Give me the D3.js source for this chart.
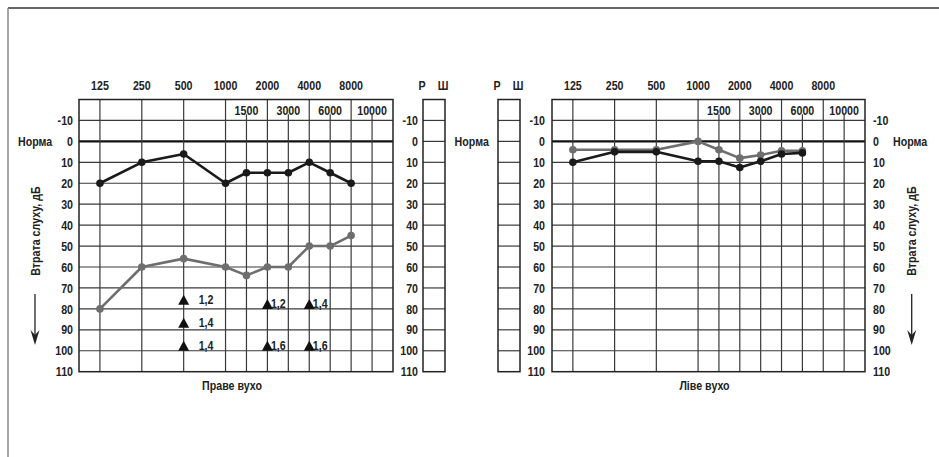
<!DOCTYPE html>
<html>
<head>
<meta charset="utf-8">
<script src="https://cdn.jsdelivr.net/npm/d3@7"></script>
<style>
  body { margin: 0; background: #fff; }
  svg text { font-family: "Liberation Sans", Arial, sans-serif; font-weight: bold; font-size: 13px; fill: #222; }
</style>
</head>
<body>
<script>
// frequencies along the top (octaves) and inside the header row (half octaves)
var mainFreqs = [125, 250, 500, 1000, 2000, 4000, 8000];
var halfFreqs = [1500, 3000, 6000, 10000];
var freqPos = {125: 0, 250: 1, 500: 2, 1000: 3, 1500: 3.5, 2000: 4, 3000: 4.5, 4000: 5, 6000: 5.5, 8000: 6, 10000: 6.5};
var dbTicks = [-10, 0, 10, 20, 30, 40, 50, 60, 70, 80, 90, 100, 110];

// right ear (Праве вухо)
var rightFreqs = [125, 250, 500, 1000, 1500, 2000, 3000, 4000, 6000, 8000];
var rightBlack = [20, 10, 6, 20, 15, 15, 15, 10, 15, 20];
var rightGray = [80, 60, 56, 60, 64, 60, 60, 50, 50, 45];
// triangle marks with their labels
var triFreqs = [500, 500, 500, 2000, 2000, 4000, 4000];
var triDb = [78, 89, 100, 80, 100, 80, 100];
var triLabels = ["1,2", "1,4", "1,4", "1,2", "1,6", "1,4", "1,6"];

// left ear (Ліве вухо)
var leftFreqs = [125, 250, 500, 1000, 1500, 2000, 3000, 4000, 6000];
var leftBlack = [10, 5, 5, 9.5, 9.5, 12.5, 9.5, 6, 5.5];
var leftGray = [4, 4, 4, 0, 4, 8, 6.5, 4.5, 4.5];

var W = 939, H = 457;
var narrow = 0.82; // squeeze text horizontally, the original uses a narrow face

var svg = d3.select("body").append("svg")
    .attr("width", W)
    .attr("height", H);

// outer frame
svg.append("line").attr("x1", 8).attr("x2", W).attr("y1", 8).attr("y2", 8)
  .attr("stroke", "#333").attr("stroke-width", 1.5);
svg.append("line").attr("x1", 8).attr("x2", 8).attr("y1", 8).attr("y2", H)
  .attr("stroke", "#888").attr("stroke-width", 1.5);

var y = d3.scaleLinear().domain([-20, 110]).range([99.5, 371.7]);
var gridColor = "#3a3a3a";

function drawAudiogram(x0, x1, title, freqs, blackVals, grayVals) {
  var x = d3.scaleLinear().domain([-0.5, 7]).range([x0, x1]);
  var g = svg.append("g");

  // horizontal grid
  g.selectAll(".hl").data(dbTicks.slice(0, -1)).enter().append("line")
    .attr("x1", x0).attr("x2", x1)
    .attr("y1", function(d) { return y(d); }).attr("y2", function(d) { return y(d); })
    .attr("stroke", function(d) { return d === 0 ? "#111" : gridColor; })
    .attr("stroke-width", function(d) { return d === 0 ? 2.2 : 1.2; });

  // vertical lines: octaves full height, half octaves start under header labels
  g.selectAll(".vm").data(mainFreqs).enter().append("line")
    .attr("x1", function(d) { return x(freqPos[d]); }).attr("x2", function(d) { return x(freqPos[d]); })
    .attr("y1", y(-20)).attr("y2", y(110))
    .attr("stroke", gridColor).attr("stroke-width", 1.2);
  g.selectAll(".vh").data(halfFreqs).enter().append("line")
    .attr("x1", function(d) { return x(freqPos[d]); }).attr("x2", function(d) { return x(freqPos[d]); })
    .attr("y1", y(-13)).attr("y2", y(110))
    .attr("stroke", gridColor).attr("stroke-width", 1.2);

  g.append("rect")
    .attr("x", x0).attr("y", y(-20))
    .attr("width", x1 - x0).attr("height", y(110) - y(-20))
    .attr("fill", "none").attr("stroke", "#222").attr("stroke-width", 1.5);

  // frequency labels
  g.selectAll(".fm").data(mainFreqs).enter().append("text")
    .attr("x", function(d) { return x(freqPos[d]); })
    .attr("y", 85).attr("dy", "0.35em")
    .attr("text-anchor", "middle")
    .text(function(d) { return d; });
  g.selectAll(".fh").data(halfFreqs).enter().append("text")
    .attr("x", function(d) { return x(freqPos[d] - 0.5) + (x(1) - x(0)) / 2; })
    .attr("y", y(-15)).attr("dy", "0.35em")
    .attr("text-anchor", "middle")
    .text(function(d) { return d; });

  // series
  var line = d3.line()
    .x(function(d) { return x(freqPos[d.f]); })
    .y(function(d) { return y(d.v); });
  var series = [
    { color: "#6e6e6e", vals: grayVals },
    { color: "#1a1a1a", vals: blackVals }
  ];
  series.forEach(function(s) {
    var pts = freqs.map(function(f, i) { return { f: f, v: s.vals[i] }; });
    g.append("path").datum(pts)
      .attr("d", line)
      .attr("fill", "none").attr("stroke", s.color).attr("stroke-width", 2.6)
      .attr("stroke-linejoin", "round");
    g.selectAll(null).data(pts).enter().append("circle")
      .attr("cx", function(d) { return x(freqPos[d.f]); })
      .attr("cy", function(d) { return y(d.v); })
      .attr("r", 3.8).attr("fill", s.color);
  });

  g.append("text")
    .attr("x", (x0 + x1) / 2 - 4).attr("y", 385).attr("dy", "0.35em")
    .attr("text-anchor", "middle")
    .text(title);
  return x;
}

function drawSideBox(bx0, bx1, labels) {
  var g = svg.append("g");
  g.selectAll("line").data(dbTicks.slice(0, -1)).enter().append("line")
    .attr("x1", bx0).attr("x2", bx1)
    .attr("y1", function(d) { return y(d); }).attr("y2", function(d) { return y(d); })
    .attr("stroke", gridColor).attr("stroke-width", 1.2);
  g.append("rect")
    .attr("x", bx0).attr("y", y(-20))
    .attr("width", bx1 - bx0).attr("height", y(110) - y(-20))
    .attr("fill", "none").attr("stroke", "#222").attr("stroke-width", 1.5);
  g.append("text").attr("x", bx0 - 1).attr("y", 85).attr("dy", "0.35em")
    .attr("text-anchor", "middle").text(labels[0]);
  g.append("text").attr("x", bx1 - 2).attr("y", 85).attr("dy", "0.35em")
    .attr("text-anchor", "middle").text(labels[1]);
}

function dbAxis(xPos, side) {
  var ax = side === "left" ? d3.axisLeft(y) : d3.axisRight(y);
  ax.tickValues(dbTicks).tickSize(0).tickPadding(0)
    .tickFormat(function(d) { return String(d); });
  var a = svg.append("g")
    .attr("transform", "translate(" + xPos + ",0)")
    .call(ax);
  a.select(".domain").remove();
  a.selectAll("text").attr("font-size", null).attr("font-family", null);
}

function sideTitle(xPos, normX, normAnchor) {
  svg.append("text")
    .attr("class", "rot")
    .attr("transform", "translate(" + xPos + ",231) rotate(-90) scale(" + narrow + ",1)")
    .attr("text-anchor", "middle").attr("dy", "0.35em")
    .text("Втрата слуху, дБ");
  svg.append("line")
    .attr("x1", xPos).attr("x2", xPos).attr("y1", 294).attr("y2", 338)
    .attr("stroke", "#222").attr("stroke-width", 1.3);
  svg.append("path")
    .attr("d", d3.line()([[xPos - 4.5, 330], [xPos, 345], [xPos + 4.5, 330], [xPos, 335]]) + "Z")
    .attr("fill", "#222");
  svg.append("text")
    .attr("x", normX).attr("y", y(0)).attr("dy", "0.35em")
    .attr("text-anchor", normAnchor)
    .text("Норма");
}

// right ear chart
var xR = drawAudiogram(79, 393, "Праве вухо", rightFreqs, rightBlack, rightGray);
drawSideBox(423, 445, ["Р", "Ш"]);
dbAxis(73, "left");
dbAxis(418, "left");
sideTitle(35, 18, "start");

// triangle markers
svg.selectAll(".tri").data(triFreqs).enter().append("path")
  .attr("d", function(d, i) {
    var cx = xR(freqPos[d]), by = y(triDb[i]);
    return "M" + (cx - 5.5) + "," + by + "L" + cx + "," + (by - 10) + "L" + (cx + 5.5) + "," + by + "Z";
  })
  .attr("fill", "#111");
svg.selectAll(".tril").data(triFreqs).enter().append("text")
  .attr("x", function(d) { return xR(freqPos[d]) + (d === 500 ? 15 : 3.5); })
  .attr("y", function(d, i) { return y(triDb[i]) - 5; })
  .attr("dy", "0.35em")
  .text(function(d, i) { return triLabels[i]; });

// middle label
svg.append("text").attr("x", 471.7).attr("y", y(0)).attr("dy", "0.35em")
  .attr("text-anchor", "middle").text("Норма");

// left ear chart
drawSideBox(498, 520, ["Р", "Ш"]);
dbAxis(545, "left");
drawAudiogram(552, 865, "Ліве вухо", leftFreqs, leftBlack, leftGray);
dbAxis(873, "right");
sideTitle(911.7, 893, "start");

// narrow all horizontal texts around their anchor point
svg.selectAll("text:not(.rot)").each(function() {
  var t = d3.select(this);
  var tx = +t.attr("x") || 0, ty = +t.attr("y") || 0;
  t.attr("transform", "translate(" + tx + "," + ty + ") scale(" + narrow + ",1) translate(" + (-tx) + "," + (-ty) + ")");
});
</script>
</body>
</html>
